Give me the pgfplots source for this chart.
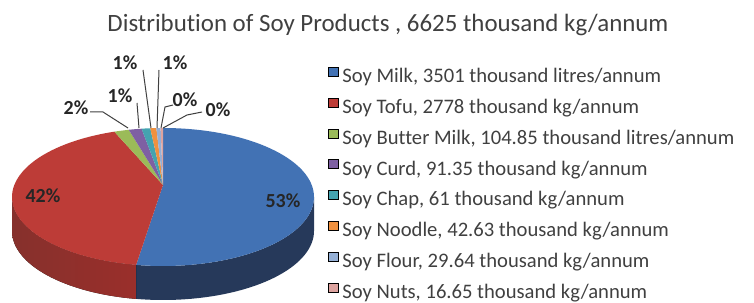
\documentclass[border=0pt]{standalone}
\usepackage{pgfplots}
\pgfplotsset{compat=1.18}
\usepackage{pgfplotstable}
\usepackage{fontspec}
\setmainfont{Carlito}[Ligatures=NoCommon]

\definecolor{s0}{HTML}{4272B4}
\definecolor{s1}{HTML}{BD3C37}
\definecolor{s2}{HTML}{9BBB59}
\definecolor{s3}{HTML}{7E60A3}
\definecolor{s4}{HTML}{44A3B0}
\definecolor{s5}{HTML}{F0913F}
\definecolor{s6}{HTML}{95B0D6}
\definecolor{s7}{HTML}{DDA39F}
\definecolor{w0}{HTML}{26395A}
\definecolor{w1}{HTML}{9A2F2B}
\definecolor{w1d}{HTML}{86302C}
\definecolor{txt}{HTML}{404040}
\definecolor{lab}{HTML}{262626}

\pgfplotstableread{
value
3501
2778
104.85
91.35
61
42.63
29.64
16.65
}\soydata

% cumulative angles (clockwise from 12 o'clock)
\def\runsum{0}
\foreach \i in {0,...,7}{%
  \pgfplotstablegetelem{\i}{value}\of\soydata
  \pgfmathsetmacro\tmp{\runsum+\pgfplotsretval}%
  \xdef\runsum{\tmp}%
}
\global\let\total\runsum
\gdef\runsum{0}
\foreach \i in {0,...,7}{%
  \pgfplotstablegetelem{\i}{value}\of\soydata
  \pgfmathsetmacro\st{90-360*(\runsum/\total)}%
  \pgfmathsetmacro\tmp{\runsum+\pgfplotsretval}%
  \xdef\runsum{\tmp}%
  \pgfmathsetmacro\en{90-360*(\runsum/\total)}%
  \expandafter\xdef\csname sS\i\endcsname{\st}%
  \expandafter\xdef\csname sE\i\endcsname{\en}%
}
\newcommand\ang[2]{\csname s#1#2\endcsname}

\def\cx{163}\def\cy{106}\def\ax{163}\def\ay{118}
\def\rx{151}\def\ry{69}\def\th{34}

\pgfplotsset{sqlegend/.style={legend image code/.code={\fill[##1] (0bp,1.5bp) rectangle (10bp,10.5bp);}}}

\begin{document}
\begin{tikzpicture}
\begin{axis}[
  width=754bp, height=303bp, scale only axis,
  xmin=0, xmax=754, ymin=0, ymax=303,
  axis lines=none, enlargelimits=false, clip=false,
  legend cell align=left,
  legend style={at={(axis cs:328,236)}, anchor=north west, draw=none, fill=none,
    inner sep=0pt, outer sep=0pt,
    font=\fontsize{20.7}{24}\selectfont, text=txt, row sep=10.1bp,
    nodes={inner sep=0pt, text height=15bp, text depth=5bp},
    /tikz/every odd column/.append style={column sep=4bp}},
]
\path (axis cs:0,0) rectangle (axis cs:754,303);
% side walls
\fill[w0] (axis cs:{\cx+\rx},{\cy}) arc[start angle=0, end angle=\ang{E}{0}, x radius=\rx bp, y radius=\ry bp]
   -- ++(0bp,-\th bp) arc[start angle=\ang{E}{0}, end angle=0, x radius=\rx bp, y radius=\ry bp] -- cycle;
\fill[left color=w1d, right color=w1] (axis cs:{\cx+\rx*cos(\ang{E}{0})},{\cy+\ry*sin(\ang{E}{0})}) arc[start angle=\ang{E}{0}, end angle=-180, x radius=\rx bp, y radius=\ry bp]
   -- ++(0bp,-\th bp) arc[start angle=-180, end angle=\ang{E}{0}, x radius=\rx bp, y radius=\ry bp] -- cycle;
% top faces
\pgfplotsinvokeforeach{0,...,7}{
  \fill[s#1] (axis cs:\ax,\ay) -- (axis cs:{\cx+\rx*cos(\ang{S}{#1})},{\cy+\ry*sin(\ang{S}{#1})})
    arc[start angle=\ang{S}{#1}, end angle=\ang{E}{#1}, x radius=\rx bp, y radius=\ry bp] -- cycle;
}
% legend
\addlegendimage{sqlegend, fill=s0}\addlegendentry{Soy Milk, 3501 thousand litres/annum}
\addlegendimage{sqlegend, fill=s1}\addlegendentry{Soy Tofu, 2778 thousand kg/annum}
\addlegendimage{sqlegend, fill=s2}\addlegendentry{Soy Butter Milk, 104.85 thousand litres/annum}
\addlegendimage{sqlegend, fill=s3}\addlegendentry{Soy Curd, 91.35 thousand kg/annum}
\addlegendimage{sqlegend, fill=s4}\addlegendentry{Soy Chap, 61 thousand kg/annum}
\addlegendimage{sqlegend, fill=s5}\addlegendentry{Soy Noodle, 42.63 thousand kg/annum}
\addlegendimage{sqlegend, fill=s6}\addlegendentry{Soy Flour, 29.64 thousand kg/annum}
\addlegendimage{sqlegend, fill=s7}\addlegendentry{Soy Nuts, 16.65 thousand kg/annum}
% title
\node[anchor=base, font=\fontsize{25}{30}\selectfont, text=txt] at (axis cs:388,271)
  {Distribution of Soy Products , 6625 thousand kg/annum};
% leader lines
\draw[txt, line width=1bp] (axis cs:90,191) -- (axis cs:103,191) -- (axis cs:128,175);
\draw[txt, line width=1bp] (axis cs:137,200) -- (axis cs:139,175);
\draw[txt, line width=1bp] (axis cs:143,233) -- (axis cs:151,175);
\draw[txt, line width=1bp] (axis cs:159,233) -- (axis cs:157,175);
\draw[txt, line width=1bp] (axis cs:173,198) -- (axis cs:165,196) -- (axis cs:161,175);
\draw[txt, line width=1bp] (axis cs:202,191) -- (axis cs:187,188) -- (axis cs:163,175);
% percentage labels
\begin{scope}[every node/.style={anchor=base, font=\fontsize{20}{24}\selectfont\bfseries, text=lab, inner sep=0pt}]
\node at (axis cs:283,95) {53\%};
\node at (axis cs:43,100) {42\%};
\node at (axis cs:76,188) {2\%};
\node at (axis cs:120,200) {1\%};
\node at (axis cs:125,233) {1\%};
\node at (axis cs:175,233) {1\%};
\node at (axis cs:185,196) {0\%};
\node at (axis cs:218,186) {0\%};
\end{scope}
\end{axis}
\pgfresetboundingbox
\useasboundingbox (current axis.south west) rectangle (current axis.north east);
\end{tikzpicture}
\end{document}
